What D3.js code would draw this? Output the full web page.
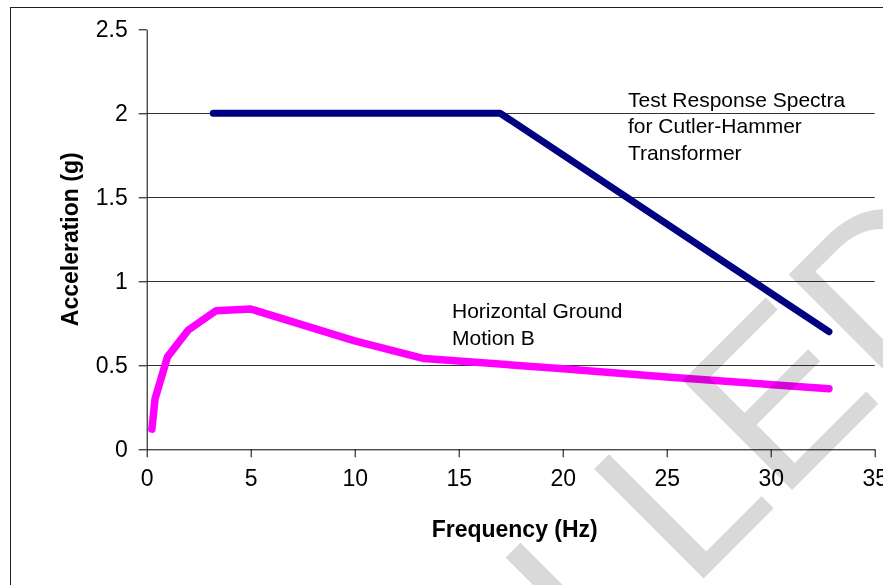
<!DOCTYPE html>
<html>
<head>
<meta charset="utf-8">
<script src="https://cdn.jsdelivr.net/npm/d3@7/dist/d3.min.js"></script>
<style>
  html, body { margin: 0; padding: 0; background: #fff; }
  svg { display: block; font-family: "Liberation Sans", Arial, sans-serif; }
</style>
</head>
<body>
<svg id="chart" width="883" height="585"></svg>
<script>
// ---- data ----
const xTicks = [0, 5, 10, 15, 20, 25, 30, 35];
const yTicks = [0, 0.5, 1, 1.5, 2, 2.5];
const gridValues = [0.5, 1, 1.5, 2];

const trsFreq = [3.2, 17, 32.8];
const trsAccel = [2.0, 2.0, 0.70];

const groundFreq = [0.25, 0.4, 1, 2, 3.33, 5, 10, 13.33, 20, 25, 32.8];
const groundAccel = [0.12, 0.30, 0.55, 0.71, 0.825, 0.835, 0.645, 0.54, 0.48, 0.43, 0.36];

const trsLabel = ["Test Response Spectra", "for Cutler-Hammer", "Transformer"];
const groundLabel = ["Horizontal Ground", "Motion B"];
const xTitle = "Frequency (Hz)";
const yTitle = "Acceleration (g)";
const watermark = "UNCONTROLLED";

// ---- layout ----
const svg = d3.select("#chart");
const x = d3.scaleLinear().domain([0, 35]).range([146.7, 874.7]);
const y = d3.scaleLinear().domain([0, 2.5]).range([449.3, 29.3]);

// outer border
svg.append("rect")
  .attr("x", 10.5).attr("y", 7.5)
  .attr("width", 900).attr("height", 600)
  .attr("fill", "none").attr("stroke", "#222").attr("stroke-width", 1);

// gridlines
svg.append("g").selectAll("line").data(gridValues).join("line")
  .attr("x1", x(0)).attr("x2", x(35))
  .attr("y1", d => Math.round(y(d)) + 0.5).attr("y2", d => Math.round(y(d)) + 0.5)
  .attr("stroke", "#333").attr("stroke-width", 1);

// axes
const yAxis = d3.axisLeft(y).tickValues(yTicks).tickSize(8).tickSizeOuter(0).tickPadding(11)
  .tickFormat(d3.format("~g"));
const xAxis = d3.axisBottom(x).tickValues(xTicks).tickSize(8).tickSizeOuter(0).tickPadding(12)
  .tickFormat(d3.format("~g"));

const gy = svg.append("g").attr("transform", `translate(${x(0)},0)`).call(yAxis);
const gx = svg.append("g").attr("transform", `translate(0,${y(0)})`).call(xAxis);
[gx, gy].forEach(g => {
  g.selectAll("path.domain").attr("stroke", "#000");
  g.selectAll(".tick line").attr("stroke", "#000");
  g.selectAll(".tick text").attr("fill", "#000")
    .style("font-family", "'Liberation Sans', Arial, sans-serif")
    .style("font-size", "23px");
});

// axis titles
svg.append("text")
  .attr("x", (x(0) + x(35)) / 2 + 4).attr("y", 537)
  .attr("text-anchor", "middle")
  .style("font-size", "23px").style("font-weight", "bold")
  .text(xTitle);

svg.append("text")
  .attr("transform", `translate(78,${(y(0) + y(2.5)) / 2}) rotate(-90)`)
  .attr("text-anchor", "middle")
  .style("font-size", "23px").style("font-weight", "bold")
  .text(yTitle);

// lines
const line = d3.line().x(d => x(d[0])).y(d => y(d[1]));
svg.append("path")
  .datum(groundFreq.map((f, i) => [f, groundAccel[i]]))
  .attr("d", line).attr("fill", "none")
  .attr("stroke", "#ff00ff").attr("stroke-width", 7.5)
  .attr("stroke-linecap", "round").attr("stroke-linejoin", "round");
svg.append("path")
  .datum(trsFreq.map((f, i) => [f, trsAccel[i]]))
  .attr("d", line).attr("fill", "none")
  .attr("stroke", "#000080").attr("stroke-width", 7)
  .attr("stroke-linecap", "round").attr("stroke-linejoin", "round");

// annotations
const t1 = svg.append("text").attr("x", 628).attr("y", 106.7).style("font-size", "21px").attr("fill", "#000");
trsLabel.forEach((s, i) => t1.append("tspan").attr("x", 628).attr("dy", i ? 26.7 : 0).text(s));
const t2 = svg.append("text").attr("x", 452).attr("y", 318.3).style("font-size", "21px").attr("fill", "#000");
groundLabel.forEach((s, i) => t2.append("tspan").attr("x", 452).attr("dy", i ? 26.7 : 0).text(s));

// watermark
svg.append("text")
  .attr("transform", "translate(1000,282) rotate(-45)")
  .attr("text-anchor", "end")
  .style("font-size", "225px")
  .style("mix-blend-mode", "multiply")
  .attr("fill", "#d9d9d9")
  .text(watermark);
</script>
</body>
</html>
